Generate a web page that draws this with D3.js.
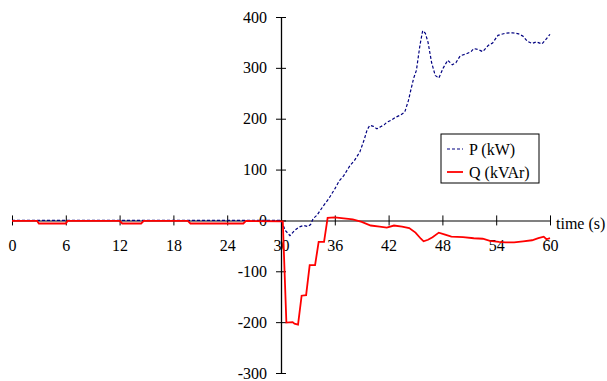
<!DOCTYPE html>
<html lang="en">
<head>
<meta charset="UTF-8">
<title>P and Q vs time</title>
<script src="https://cdnjs.cloudflare.com/ajax/libs/d3/7.8.5/d3.min.js"></script>
<style>
    body { margin: 0; background: #fff; }
    text { font-family: "Liberation Serif", "Times New Roman", serif; font-size: 16px; fill: #000; }
</style>
</head>
<body>
<div id="chart"></div>
<script>
// data
const xTicks = [0, 6, 12, 18, 24, 30, 36, 42, 48, 54, 60];
const yTicks = [-300, -200, -100, 0, 100, 200, 300, 400];

const pTime = [0, 30, 30.5, 31, 31.5, 32, 32.5, 33, 33.3, 33.6, 34, 34.7, 35.3, 36, 36.5, 37, 37.7, 38.2, 38.8, 39.3,
    39.6, 39.9, 40.3, 40.7, 41.1, 41.5, 41.8, 42.3, 42.8, 43.3, 43.8, 44.2, 44.5, 44.8, 45.1, 45.3, 45.5, 45.8,
    46.1, 46.4, 46.8, 47.2, 47.6, 48.1, 48.6, 49.1, 49.5, 50, 50.6, 51.2, 51.5, 52, 52.5, 53.1, 53.6, 54.2,
    55, 55.8, 56.5, 57, 57.5, 58, 58.5, 59.1, 59.5, 60];
const pValue = [0, 0, -20, -30, -20, -13, -10, -12, -8, 4, 10, 28, 42, 62, 78, 88, 108, 118, 135, 160,
    178, 187, 185, 180, 184, 188, 193, 197, 203, 207, 213, 235, 258, 280, 295, 320, 345, 373,
    368, 350, 310, 285, 280, 300, 315, 306, 310, 324, 327, 332, 338, 336, 332, 344, 349, 364,
    368, 369, 367, 362, 352, 348, 351, 347, 355, 366];

const qTime = [0, 2.8, 3.0, 6.0, 6.2, 12.0, 12.3, 14.4, 14.7, 19.6, 19.9, 25.8, 26.1, 30.2, 30.6, 31.3, 31.5,
    31.9, 32.3, 32.8, 33.2, 33.8, 34.2, 34.8, 35.2, 36, 37, 38, 39, 40, 41, 41.8, 42.6, 43.5, 44.3, 45,
    45.6, 45.9, 46.4, 46.9, 47.6, 48.3, 49, 50.3, 51.5, 52.5, 53.3, 54.3, 55, 56, 57, 58, 58.7, 59.3, 59.6, 60];
const qValue = [-1, -1, -6, -6, -1, -1, -6, -6, -1, -1, -6, -6, -1, -2, -201, -200, -203,
    -205, -148, -147, -88, -88, -42, -42, 5, 6, 4, 2, -3, -10, -12, -14, -10, -12, -15, -24,
    -36, -41, -38, -33, -24, -28, -32, -33, -35, -36, -40, -42, -43, -43, -41, -39, -35, -32, -37, -35];

const width = 607, height = 381;

const svg = d3.select("#chart").append("svg")
    .attr("width", width)
    .attr("height", height);

const x = d3.scaleLinear().domain([0, 60]).range([12, 550]);
const y = d3.scaleLinear().domain([-300, 400]).range([373, 17]);

// horizontal axis along y = 0 (grey line, black ticks crossing it)
const xAxis = svg.append("g")
    .attr("transform", "translate(0," + y(0) + ")")
    .call(d3.axisBottom(x).tickValues(xTicks).tickSize(4).tickSizeOuter(0));
xAxis.select(".domain").attr("stroke", "#808080").attr("stroke-width", 2);
xAxis.selectAll(".tick line").attr("y1", -5).attr("y2", 5).attr("stroke", "#000");
xAxis.selectAll(".tick text").attr("y", 31).attr("dy", 0)
    .attr("font-size", null).attr("font-family", null);

// vertical axis at t = 30
const yAxis = svg.append("g")
    .attr("transform", "translate(" + x(30) + ",0)")
    .call(d3.axisLeft(y).tickValues(yTicks).tickSize(5).tickSizeOuter(0).tickFormat(d => String(d)));
yAxis.select(".domain").attr("stroke", "#000").attr("stroke-width", 1.3);
yAxis.selectAll(".tick line").attr("x1", 5).attr("x2", -5).attr("stroke", "#000");
yAxis.selectAll(".tick text").attr("x", -14).attr("dy", "0.32em")
    .attr("font-size", null).attr("font-family", null);

svg.append("text")
    .attr("x", 556)
    .attr("y", 229)
    .text("time (s)");

// series
const pData = pTime.map((t, i) => [t, pValue[i]]);
const qData = qTime.map((t, i) => [t, qValue[i]]);

const line = d3.line()
    .x(d => x(d[0]))
    .y(d => y(d[1]));

svg.append("path")
    .datum(pData)
    .attr("fill", "none")
    .attr("stroke", "#000080")
    .attr("stroke-width", 1.2)
    .attr("stroke-dasharray", "3,2")
    .attr("d", line);

svg.append("path")
    .datum(qData)
    .attr("fill", "none")
    .attr("stroke", "#ff0000")
    .attr("stroke-width", 1.8)
    .attr("d", line);

// legend
const legend = svg.append("g").attr("transform", "translate(441,134)");
legend.append("rect")
    .attr("width", 98).attr("height", 49)
    .attr("fill", "#fff").attr("stroke", "#000").attr("stroke-width", 1);

legend.append("line")
    .attr("x1", 6).attr("x2", 22).attr("y1", 15).attr("y2", 15)
    .attr("stroke", "#000080").attr("stroke-width", 1.2).attr("stroke-dasharray", "3,2");
legend.append("text").attr("x", 28).attr("y", 21).text("P (kW)");

legend.append("line")
    .attr("x1", 6).attr("x2", 22).attr("y1", 38).attr("y2", 38)
    .attr("stroke", "#ff0000").attr("stroke-width", 1.8);
legend.append("text").attr("x", 28).attr("y", 44).text("Q (kVAr)");
</script>
</body>
</html>
